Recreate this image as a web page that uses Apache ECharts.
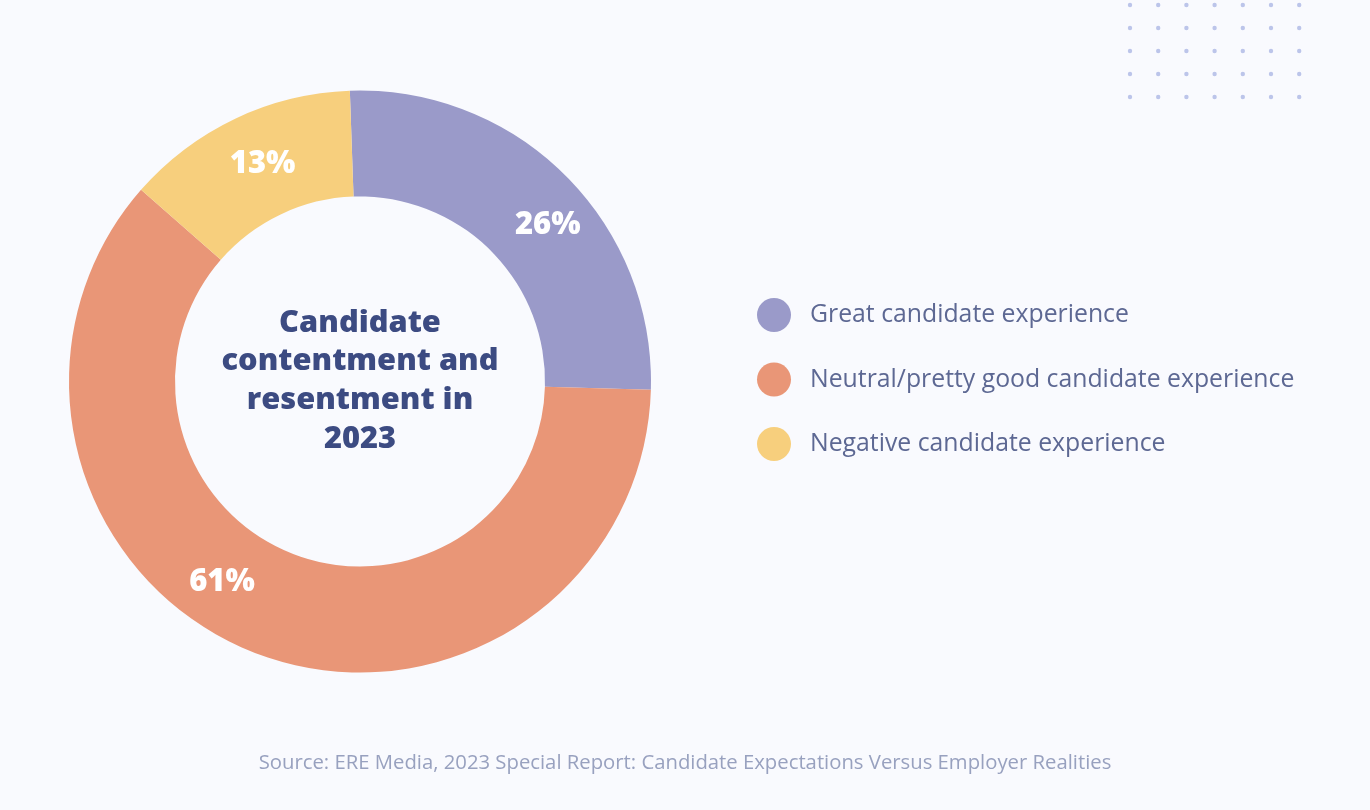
<!DOCTYPE html>
<html>
<head>
<meta charset="utf-8">
<script src="https://cdn.jsdelivr.net/npm/echarts@6/dist/echarts.min.js"></script>
<style>
html,body{margin:0;padding:0;background:#f9fafe;}
#chart{width:1370px;height:810px;}
</style>
</head>
<body>
<div id="chart"></div>
<script>
var categories = ['Great candidate experience', 'Neutral/pretty good candidate experience', 'Negative candidate experience'];
var values = [26, 61, 13];
var colors = ['#9a9ac9', '#e99677', '#f7cf7d'];
var centerTitle = 'Candidate\ncontentment and\nresentment in\n2023';
var sourceText = 'Source: ERE Media, 2023 Special Report: Candidate Expectations Versus Employer Realities';

// label nudges (layout only)
var labelOffsets = [[18, 15], [-50, -24], [6, 0]];

var chart = echarts.init(document.getElementById('chart'), null, {renderer: 'canvas'});

var pieData = categories.map(function (c, i) {
  return {
    name: c,
    value: values[i],
    itemStyle: {color: colors[i]},
    label: {offset: labelOffsets[i]}
  };
});

// decorative dot grid (top-right)
var dots = [];
for (var r = 0; r < 5; r++) {
  for (var c = 0; c < 7; c++) {
    dots.push({
      type: 'circle',
      shape: {cx: 1130 + c * 28.2, cy: 5 + r * 23, r: 2.2},
      style: {fill: '#bcc5ea'},
      silent: true
    });
  }
}

var option = {
  backgroundColor: '#f9fafe',
  animation: false,
  title: [{
    text: sourceText,
    left: 'center',
    top: 748,
    textStyle: {fontFamily: 'Open Sans', fontSize: 20.3, fontWeight: 'normal', color: '#98a1bf'}
  }],
  legend: {
    orient: 'vertical',
    left: 752,
    top: 293,
    icon: 'circle',
    itemWidth: 34,
    itemHeight: 34,
    itemGap: 30.5,
    data: categories,
    textStyle: {fontFamily: 'Open Sans', fontSize: 24.8, color: '#5d6893', padding: [0, 0, 0, 14]}
  },
  graphic: [{
    type: 'text',
    x: 360,
    y: 381,
    style: {
      text: centerTitle,
      font: '800 30.8px "Open Sans"',
      fill: '#3c4b82',
      align: 'center',
      verticalAlign: 'middle',
      textAlign: 'center',
      textVerticalAlign: 'middle',
      lineHeight: 38.7
    }
  }].concat(dots),
  series: [{
    type: 'pie',
    center: [360, 381.5],
    radius: [185, 291],
    startAngle: 92,
    clockwise: true,
    avoidLabelOverlap: false,
    silent: true,
    label: {
      show: true,
      position: 'inside',
      formatter: '{c}%',
      color: '#ffffff',
      fontFamily: 'Open Sans',
      fontWeight: 800,
      fontSize: 31
    },
    labelLine: {show: false},
    itemStyle: {borderWidth: 0},
    data: pieData
  }]
};
chart.setOption(option);
</script>
</body>
</html>
